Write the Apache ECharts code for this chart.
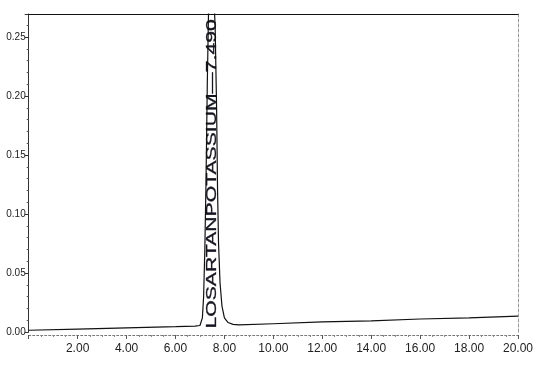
<!DOCTYPE html>
<html>
<head>
<meta charset="utf-8">
<script src="https://cdn.jsdelivr.net/npm/echarts@6/dist/echarts.min.js"></script>
<style>
  html, body { margin: 0; padding: 0; background: #fff; }
  #chart { width: 536px; height: 366px; }
</style>
</head>
<body>
<div id="chart"></div>
<script>
// retention time (min) and absorbance (AU)
const times = [0, 2, 4, 6, 6.8, 7.0, 7.05, 7.1, 7.15, 7.2, 7.25, 7.3, 7.35, 7.42, 7.49,
  7.55, 7.62, 7.68, 7.72, 7.76, 7.82, 7.9, 8.0, 8.15, 8.35, 8.6, 10, 12, 14, 16, 18, 20];
const absorbance = [0.0015, 0.0025, 0.0035, 0.0045, 0.005, 0.0055, 0.007, 0.012, 0.03, 0.07,
  0.13, 0.21, 0.27, 0.295, 0.3, 0.29, 0.26, 0.19, 0.12, 0.075, 0.042, 0.022, 0.012, 0.008,
  0.0065, 0.006, 0.007, 0.0085, 0.0095, 0.011, 0.012, 0.0135];

const peakName = "LOSARTANPOTASSIUM—7.490";
const peakTime = 7.49;
const peakLabelLevel = 0.134;

const AXIS_FONT = "'Liberation Sans Narrow', 'Liberation Sans', Arial, sans-serif";

const chart = echarts.init(document.getElementById("chart"));

chart.setOption({
  animation: false,
  grid: { left: 28.7, right: 14, top: 14, bottom: 34 },
  xAxis: [
    {
      type: "value",
      min: 0,
      max: 20,
      interval: 2,
      offset: 3,
      axisLine: { show: true, onZero: false, lineStyle: { color: "#777", type: [2, 2] } },
      axisTick: { inside: false, length: 4, lineStyle: { color: "#555" } },
      minorTick: { show: true, splitNumber: 4, length: 2, lineStyle: { color: "#888" } },
      splitLine: { show: false },
      axisLabel: {
        color: "#222",
        fontFamily: AXIS_FONT,
        fontSize: 12,
        margin: 8,
        formatter: (v) => (v === 0 ? "" : v.toFixed(2)),
      },
    },
    {
      type: "value",
      position: "top",
      min: 0,
      max: 20,
      axisLine: { show: true, onZero: false, lineStyle: { color: "#111", width: 1.2 } },
      axisTick: { show: false },
      axisLabel: { show: false },
      splitLine: { show: false },
    },
  ],
  yAxis: [
    {
      type: "value",
      min: 0,
      max: 0.2695,
      interval: 0.05,
      axisLine: { show: true, onZero: false, lineStyle: { color: "#333" } },
      axisTick: { show: true, length: 4, lineStyle: { color: "#333" } },
      minorTick: { show: true, splitNumber: 5, length: 2, lineStyle: { color: "#555" } },
      splitLine: { show: false },
      axisLabel: {
        color: "#222",
        fontFamily: AXIS_FONT,
        fontSize: 10,
        margin: 3,
        showMaxLabel: false,
        formatter: (v) => v.toFixed(2),
      },
    },
    {
      type: "value",
      position: "right",
      min: 0,
      max: 0.2695,
      axisLine: { show: true, onZero: false, lineStyle: { color: "#999", type: [3, 2] } },
      axisTick: { show: false },
      axisLabel: { show: false },
      splitLine: { show: false },
    },
  ],
  series: [
    {
      type: "line",
      data: times.map((t, i) => [t, absorbance[i]]),
      showSymbol: false,
      clip: true,
      lineStyle: { color: "#111", width: 1.2 },
    },
  ],
});

// vertical peak annotation, placed through the grid's own scales
const [px, py] = chart.convertToPixel({ gridIndex: 0 }, [peakTime, peakLabelLevel]);
chart.setOption({
  graphic: [
    {
      type: "text",
      x: px,
      y: py,
      rotation: Math.PI / 2,
      scaleX: 1.41,
      style: {
        text: peakName,
        fill: "#15151f",
        font: "15px 'Liberation Sans', Arial, sans-serif",
        align: "center",
        verticalAlign: "middle",
        stroke: "#15151f",
        lineWidth: 0.3,
      },
    },
  ],
});
</script>
</body>
</html>
